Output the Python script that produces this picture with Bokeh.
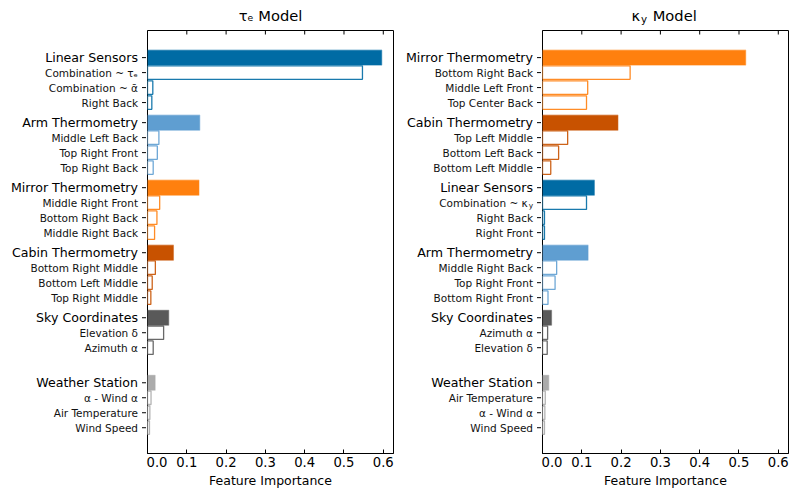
import math
from bokeh.plotting import figure
from bokeh.models import Range1d, FixedTicker, ColumnDataSource, Spacer
from bokeh.layouts import row, column
from bokeh.core.properties import value
from bokeh.embed import file_html
from bokeh.resources import INLINE

# ---------------- data ----------------
x_ticks = [0.0, 0.1, 0.2, 0.3, 0.4, 0.5, 0.6]
x_tick_labels = ["0.0", "0.1", "0.2", "0.3", "0.4", "0.5", "0.6"]

group_colors = {
    "Linear Sensors": "#006BA4",
    "Arm Thermometry": "#5F9ED1",
    "Mirror Thermometry": "#FF800E",
    "Cabin Thermometry": "#C85200",
    "Sky Coordinates": "#595959",
    "Weather Station": "#ABABAB",
}

tau_groups = ["Linear Sensors", "Arm Thermometry", "Mirror Thermometry",
              "Cabin Thermometry", "Sky Coordinates", "Weather Station"]
tau_group_values = [0.596, 0.133, 0.131, 0.066, 0.054, 0.0195]
tau_sub_names = [
    ["Combination ~ τₑ", "Combination ~ ᾱ", "Right Back"],
    ["Middle Left Back", "Top Right Front", "Top Right Back"],
    ["Middle Right Front", "Bottom Right Back", "Middle Right Back"],
    ["Bottom Right Middle", "Bottom Left Middle", "Top Right Middle"],
    ["Elevation δ", "Azimuth α"],
    ["α - Wind α", "Air Temperature", "Wind Speed"],
]
tau_sub_values = [
    [0.547, 0.0135, 0.011],
    [0.029, 0.025, 0.0145],
    [0.031, 0.024, 0.018],
    [0.020, 0.012, 0.0085],
    [0.041, 0.0145],
    [0.009, 0.006, 0.005],
]

kappa_groups = ["Mirror Thermometry", "Cabin Thermometry", "Linear Sensors",
                "Arm Thermometry", "Sky Coordinates", "Weather Station"]
kappa_group_values = [0.517, 0.192, 0.132, 0.116, 0.023, 0.016]
kappa_sub_names = [
    ["Bottom Right Back", "Middle Left Front", "Top Center Back"],
    ["Top Left Middle", "Bottom Left Back", "Bottom Left Middle"],
    ["Combination ~ κ_y", "Right Back", "Right Front"],
    ["Middle Right Back", "Top Right Front", "Bottom Right Front"],
    ["Azimuth α", "Elevation δ"],
    ["Air Temperature", "α - Wind α", "Wind Speed"],
]
kappa_sub_values = [
    [0.223, 0.115, 0.112],
    [0.064, 0.041, 0.021],
    [0.112, 0.005, 0.005],
    [0.036, 0.032, 0.014],
    [0.013, 0.012],
    [0.007, 0.006, 0.005],
]

# ---------------- styling ----------------
FONT = "DejaVu Sans"
GROUP_STEP = 4.34
X_MAX = 0.626
Y_TOP_PAD = 1.81
Y_BOT_PAD = 1.72
TITLE_H = 29
BODY_H = 468
FRAME_W = 246
BORDER_TOP = 1
BORDER_BOTTOM = 44


def plain(p):
    p.grid.visible = False
    p.outline_line_color = None
    p.background_fill_color = "white"
    p.border_fill_color = "white"
    return p


def title_fig(main, sub, x_range):
    p = figure(width=FRAME_W, height=TITLE_H, x_range=x_range, y_range=Range1d(0, 1),
               output_backend="svg", toolbar_location=None,
               x_axis_location=None, y_axis_location=None,
               min_border=0, min_border_left=0, min_border_right=0,
               min_border_top=0, min_border_bottom=0)
    plain(p)
    xc = X_MAX / 2
    if sub is None:
        p.text(x=[xc], y=[0.47], text=[main], text_align="center", text_baseline="middle",
               text_font=value(FONT), text_font_size="14.7px", text_color="black")
    else:
        p.text(x=[xc], y=[0.47], text=[main], x_offset=-34, text_align="left",
               text_baseline="middle", text_font=value(FONT), text_font_size="14.7px",
               text_color="black")
        p.text(x=[xc], y=[0.47], text=[sub], x_offset=-24.5, y_offset=3, text_align="left",
               text_baseline="middle", text_font=value(FONT), text_font_size="10.3px",
               text_color="black")
        p.text(x=[xc], y=[0.47], text=["Model"], x_offset=-12.8, text_align="left",
               text_baseline="middle", text_font=value(FONT), text_font_size="14.7px",
               text_color="black")
    return p


def make_panel(groups, gvals, subnames, subvals, label_w):
    n = len(groups)
    y_bottom = -((n - 1) * GROUP_STEP + 3 + Y_BOT_PAD)
    y_range = Range1d(y_bottom, Y_TOP_PAD)
    x_range = Range1d(0, X_MAX)

    head_y, head_c = [], []
    sub_y, sub_v, sub_c, sub_text, sub_xo = [], [], [], [], []
    ss_y, ss_text = [], []
    for g, name in enumerate(groups):
        y0 = -(g * GROUP_STEP)
        head_y.append(y0)
        head_c.append(group_colors[name])
        for k, (sn, sv) in enumerate(zip(subnames[g], subvals[g])):
            yy = y0 - (k + 1)
            sub_y.append(yy)
            sub_v.append(sv)
            sub_c.append(group_colors[name])
            if "_" in sn:
                main, sub = sn.split("_", 1)
                sub_text.append(main)
                sub_xo.append(-13.8)
                ss_y.append(yy)
                ss_text.append(sub)
            else:
                sub_text.append(sn)
                sub_xo.append(-8.5)

    # ---- label figure (category names + y tick marks) ----
    lab = figure(width=label_w, height=BODY_H, x_range=Range1d(0, 1), y_range=y_range,
                 output_backend="svg", toolbar_location=None,
                 x_axis_location=None, y_axis_location=None,
                 min_border_left=0, min_border_right=0,
                 min_border_top=BORDER_TOP, min_border_bottom=BORDER_BOTTOM)
    plain(lab)
    xr = lab.x_range.end
    lab.text(x=[xr] * n, y=head_y, text=groups, x_offset=-8.5, text_align="right",
             text_baseline="middle", text_font=value(FONT), text_font_size="12.6px",
             text_color="black")
    lab.text(x=[xr] * len(sub_y), y=sub_y, text=sub_text, x_offset=sub_xo,
             text_align="right", text_baseline="middle", text_font=value(FONT),
             text_font_size="10.5px", text_color="#111111")
    if ss_y:
        lab.text(x=[xr] * len(ss_y), y=ss_y, text=ss_text, x_offset=-8.5, y_offset=3,
                 text_align="right", text_baseline="middle", text_font=value(FONT),
                 text_font_size="7.4px", text_color="#111111")
    lab.scatter(x=[xr] * (n + len(sub_y)), y=head_y + sub_y, marker="dash", size=9,
                line_color="black", line_width=1, fill_color=None)

    # ---- bar figure ----
    p = figure(width=FRAME_W + 2, height=BODY_H, x_range=x_range, y_range=y_range,
               output_backend="svg", toolbar_location=None, y_axis_location=None,
               min_border_left=1, min_border_right=1,
               min_border_top=BORDER_TOP, min_border_bottom=BORDER_BOTTOM)
    p.grid.visible = False
    p.outline_line_color = "black"
    p.outline_line_width = 1
    p.outline_line_alpha = 1
    p.background_fill_color = "white"
    p.border_fill_color = "white"

    head_src = ColumnDataSource(dict(y=head_y, right=gvals, color=head_c))
    sub_src = ColumnDataSource(dict(y=sub_y, right=sub_v, color=sub_c))
    p.hbar(y="y", left=0, right="right", height=1.0, source=head_src,
           fill_color="color", line_color="color", line_alpha=0.45, line_width=1.2)
    p.hbar(y="y", left=0, right="right", height=0.9, source=sub_src,
           fill_color="white", line_color="color", line_alpha=0.9, line_width=1.3)

    # top tick marks (inward)
    p.scatter(x=x_ticks, y=[y_range.end] * len(x_ticks), marker="dash", angle=math.pi / 2,
              size=8, line_color="black", line_width=1, fill_color=None)

    xa = p.xaxis[0]
    xa.ticker = FixedTicker(ticks=x_ticks)
    xa.major_label_overrides = dict(zip(x_ticks, x_tick_labels))
    xa.major_tick_in = 4
    xa.major_tick_out = 0
    xa.minor_tick_line_color = None
    xa.major_label_text_font_size = "13.2px"
    xa.major_label_text_font = FONT
    xa.major_label_text_color = "black"
    xa.major_label_standoff = 3
    xa.axis_label = "Feature Importance"
    xa.axis_label_text_font_size = "12.5px"
    xa.axis_label_text_font = FONT
    xa.axis_label_text_font_style = "normal"
    xa.axis_label_text_color = "black"
    xa.axis_label_standoff = 3
    xa.axis_line_color = "black"
    return lab, p, x_range


labL, barL, xrL = make_panel(tau_groups, tau_group_values, tau_sub_names, tau_sub_values, 146)
labR, barR, xrR = make_panel(kappa_groups, kappa_group_values, kappa_sub_names,
                             kappa_sub_values, 147)
tL = title_fig("τₑ Model", None, xrL)
tR = title_fig("κ", "y", xrR)

top_row = row(Spacer(width=147, height=TITLE_H), tL, Spacer(width=149, height=TITLE_H), tR)
body_row = row(labL, barL, labR, barR)
layout = column(top_row, body_row)
open("out.html", "w").write(file_html(layout, INLINE))
